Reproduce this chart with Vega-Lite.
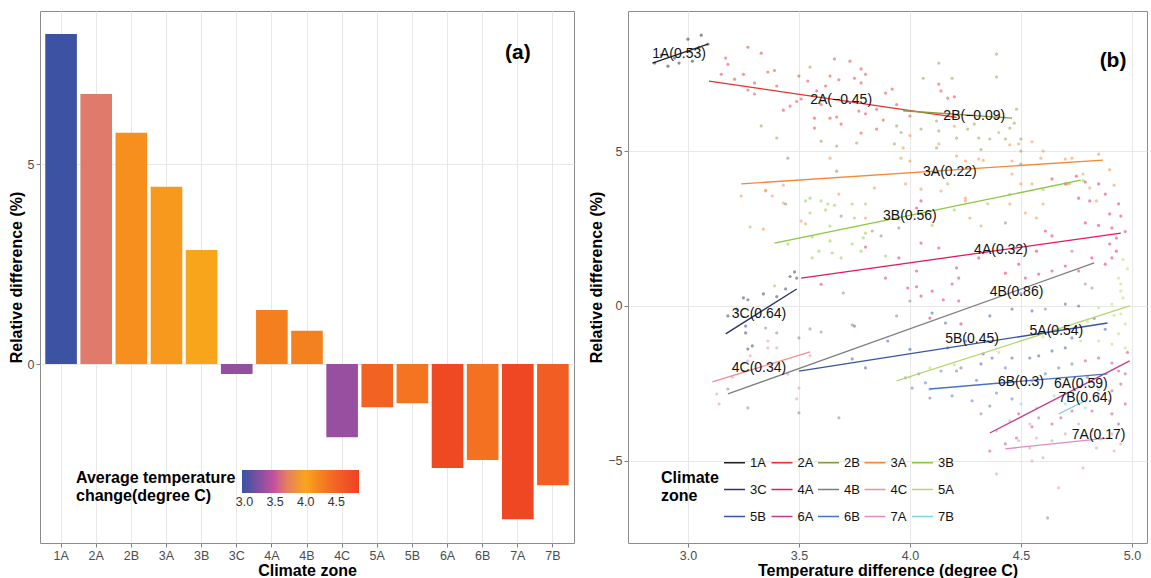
{
  "$schema": "https://vega.github.io/schema/vega-lite/v6.json",
  "background": "white",
  "padding": {"left": 7, "top": 10, "right": 0, "bottom": 0},
  "spacing": 54,
  "bounds": "flush",
  "config": {
    "font": "Liberation Sans",
    "view": {"stroke": "#8c8c8c", "strokeWidth": 1},
    "axis": {
      "domain": false,
      "labelColor": "#4d4d4d",
      "labelFontSize": 12.5,
      "labelPadding": 2,
      "titleFontSize": 16,
      "titleFontWeight": "bold",
      "titleColor": "#000000",
      "titlePadding": 3,
      "tickColor": "#7f7f7f",
      "tickSize": 4,
      "gridColor": "#e8e8e8",
      "gridWidth": 1
    },
    "legend": {"padding": 0, "labelOverlap": false}
  },
  "datasets": {
    "zones": [
      {"zone": "1A", "diff": 8.25, "temp": 2.97},
      {"zone": "2A", "diff": 6.75, "temp": 3.65},
      {"zone": "2B", "diff": 5.78, "temp": 4.15},
      {"zone": "3A", "diff": 4.43, "temp": 4.08},
      {"zone": "3B", "diff": 2.85, "temp": 4.0},
      {"zone": "3C", "diff": -0.25, "temp": 3.3},
      {"zone": "4A", "diff": 1.35, "temp": 4.27},
      {"zone": "4B", "diff": 0.83, "temp": 4.25},
      {"zone": "4C", "diff": -1.83, "temp": 3.32},
      {"zone": "5A", "diff": -1.08, "temp": 4.5},
      {"zone": "5B", "diff": -0.98, "temp": 4.35},
      {"zone": "6A", "diff": -2.6, "temp": 4.78},
      {"zone": "6B", "diff": -2.4, "temp": 4.38},
      {"zone": "7A", "diff": -3.88, "temp": 4.82},
      {"zone": "7B", "diff": -3.03, "temp": 4.57}
    ],
    "fits": [
      {"z": "1A", "t": 2.84, "d": 7.84}, {"z": "1A", "t": 3.09, "d": 8.45},
      {"z": "2A", "t": 3.095, "d": 7.26}, {"z": "2A", "t": 4.21, "d": 6.09},
      {"z": "2B", "t": 3.97, "d": 6.3}, {"z": "2B", "t": 4.46, "d": 6.06},
      {"z": "3A", "t": 3.24, "d": 3.94}, {"z": "3A", "t": 4.87, "d": 4.71},
      {"z": "3B", "t": 3.39, "d": 2.03}, {"z": "3B", "t": 4.77, "d": 4.06},
      {"z": "3C", "t": 3.17, "d": -0.9}, {"z": "3C", "t": 3.49, "d": 0.55},
      {"z": "4A", "t": 3.51, "d": 0.9}, {"z": "4A", "t": 4.95, "d": 2.35},
      {"z": "4B", "t": 3.18, "d": -2.84}, {"z": "4B", "t": 4.83, "d": 1.39},
      {"z": "4C", "t": 3.11, "d": -2.45}, {"z": "4C", "t": 3.55, "d": -1.48},
      {"z": "5A", "t": 3.94, "d": -2.42}, {"z": "5A", "t": 4.99, "d": 0.0},
      {"z": "5B", "t": 3.5, "d": -2.1}, {"z": "5B", "t": 4.89, "d": -0.55},
      {"z": "6A", "t": 4.36, "d": -4.1}, {"z": "6A", "t": 4.99, "d": -1.77},
      {"z": "6B", "t": 4.09, "d": -2.68}, {"z": "6B", "t": 4.89, "d": -2.19},
      {"z": "7A", "t": 4.43, "d": -4.61}, {"z": "7A", "t": 4.9, "d": -4.26},
      {"z": "7B", "t": 4.67, "d": -3.48}, {"z": "7B", "t": 4.79, "d": -3.06}
    ],
    "tags": [
      {"lab": "1A(0.53)", "t": 2.96, "d": 8.13},
      {"lab": "2A(−0.45)", "t": 3.69, "d": 6.65},
      {"lab": "2B(−0.09)", "t": 4.29, "d": 6.13},
      {"lab": "3A(0.22)", "t": 4.18, "d": 4.32},
      {"lab": "3B(0.56)", "t": 4.0, "d": 2.9},
      {"lab": "4A(0.32)", "t": 4.41, "d": 1.81},
      {"lab": "4B(0.86)", "t": 4.48, "d": 0.45},
      {"lab": "3C(0.64)", "t": 3.32, "d": -0.26},
      {"lab": "4C(0.34)", "t": 3.32, "d": -2.0},
      {"lab": "5B(0.45)", "t": 4.28, "d": -1.06},
      {"lab": "5A(0.54)", "t": 4.66, "d": -0.81},
      {"lab": "6B(0.3)", "t": 4.5, "d": -2.45},
      {"lab": "6A(0.59)", "t": 4.77, "d": -2.52},
      {"lab": "7B(0.64)", "t": 4.79, "d": -2.98},
      {"lab": "7A(0.17)", "t": 4.85, "d": -4.16}
    ],
    "pts": [
      {"z":"1A","t":3.0,"d":8.61},{"z":"1A","t":3.06,"d":8.74},{"z":"1A","t":2.91,"d":7.74},{"z":"1A","t":2.96,"d":7.84},{"z":"1A","t":3.02,"d":7.9},
      {"z":"1A","t":2.85,"d":7.84},{"z":"1A","t":2.88,"d":8.1},{"z":"1A","t":3.05,"d":8.35},{"z":"1A","t":2.94,"d":8.0},{"z":"1A","t":3.09,"d":8.45},
      {"z":"2A","t":3.27,"d":8.35},{"z":"2A","t":3.33,"d":8.16},{"z":"2A","t":3.17,"d":8.0},{"z":"2A","t":3.18,"d":7.8},{"z":"2A","t":3.15,"d":7.48},
      {"z":"2A","t":3.25,"d":7.48},{"z":"2A","t":3.36,"d":7.55},{"z":"2A","t":3.39,"d":7.6},{"z":"2A","t":3.21,"d":7.32},{"z":"2A","t":3.3,"d":7.2},
      {"z":"2A","t":3.4,"d":7.1},{"z":"2A","t":3.27,"d":6.97},{"z":"2A","t":3.3,"d":6.84},{"z":"2A","t":3.43,"d":6.32},{"z":"2A","t":3.46,"d":6.45},
      {"z":"2A","t":3.5,"d":7.42},{"z":"2A","t":3.54,"d":7.26},{"z":"2A","t":3.51,"d":6.68},{"z":"2A","t":3.49,"d":6.6},{"z":"2A","t":3.58,"d":6.94},
      {"z":"2A","t":3.62,"d":7.1},{"z":"2A","t":3.66,"d":7.97},{"z":"2A","t":3.73,"d":7.9},{"z":"2A","t":3.78,"d":7.65},{"z":"2A","t":3.8,"d":7.48},
      {"z":"2A","t":3.78,"d":7.2},{"z":"2A","t":3.75,"d":7.35},{"z":"2A","t":3.64,"d":7.42},{"z":"2A","t":3.68,"d":7.3},{"z":"2A","t":3.57,"d":6.06},
      {"z":"2A","t":3.64,"d":6.06},{"z":"2A","t":3.67,"d":6.1},{"z":"2A","t":3.69,"d":5.87},{"z":"2A","t":3.77,"d":6.29},{"z":"2A","t":3.8,"d":6.2},
      {"z":"2A","t":3.85,"d":6.35},{"z":"2A","t":3.88,"d":6.0},{"z":"2A","t":3.85,"d":5.71},{"z":"2A","t":3.78,"d":5.58},{"z":"2A","t":3.57,"d":5.74},
      {"z":"2A","t":3.89,"d":6.87},{"z":"2A","t":3.94,"d":6.5},{"z":"2A","t":4.0,"d":6.13},{"z":"2A","t":4.13,"d":7.16},{"z":"2A","t":4.14,"d":6.94},
      {"z":"2A","t":4.17,"d":6.71},{"z":"2A","t":4.2,"d":6.75},{"z":"2A","t":3.92,"d":7.0},{"z":"2A","t":3.6,"d":6.5},{"z":"2A","t":3.72,"d":6.6},
      {"z":"2B","t":3.33,"d":5.81},{"z":"2B","t":3.4,"d":5.42},{"z":"2B","t":3.55,"d":7.71},{"z":"2B","t":3.6,"d":5.32},{"z":"2B","t":3.67,"d":5.16},
      {"z":"2B","t":3.76,"d":5.26},{"z":"2B","t":4.13,"d":7.84},{"z":"2B","t":4.06,"d":7.35},{"z":"2B","t":4.19,"d":7.35},{"z":"2B","t":4.39,"d":8.13},
      {"z":"2B","t":4.39,"d":7.39},{"z":"2B","t":4.05,"d":5.71},{"z":"2B","t":4.12,"d":5.97},{"z":"2B","t":4.13,"d":5.65},{"z":"2B","t":4.21,"d":5.42},
      {"z":"2B","t":4.26,"d":5.71},{"z":"2B","t":4.29,"d":5.87},{"z":"2B","t":4.31,"d":5.42},{"z":"2B","t":4.36,"d":5.39},{"z":"2B","t":4.43,"d":5.39},
      {"z":"2B","t":4.45,"d":5.74},{"z":"2B","t":4.48,"d":6.35},{"z":"2B","t":4.5,"d":5.39},{"z":"2B","t":3.94,"d":5.81},{"z":"2B","t":3.96,"d":5.6},
      {"z":"2B","t":3.93,"d":5.23},{"z":"2B","t":4.12,"d":5.1},{"z":"2B","t":4.32,"d":5.05},{"z":"2B","t":4.5,"d":5.0},{"z":"2B","t":4.47,"d":5.9},
      {"z":"3A","t":3.64,"d":4.77},{"z":"3A","t":3.43,"d":3.9},{"z":"3A","t":3.38,"d":3.55},{"z":"3A","t":3.24,"d":3.55},{"z":"3A","t":3.35,"d":3.74},
      {"z":"3A","t":3.28,"d":2.55},{"z":"3A","t":3.34,"d":2.48},{"z":"3A","t":3.51,"d":2.74},{"z":"3A","t":3.53,"d":2.65},{"z":"3A","t":3.74,"d":3.29},
      {"z":"3A","t":3.8,"d":2.84},{"z":"3A","t":3.35,"d":3.71},{"z":"3A","t":3.43,"d":3.32},{"z":"3A","t":3.68,"d":3.61},{"z":"3A","t":3.84,"d":3.81},
      {"z":"3A","t":4.0,"d":4.68},{"z":"3A","t":3.97,"d":5.1},{"z":"3A","t":4.13,"d":5.23},{"z":"3A","t":4.25,"d":4.68},{"z":"3A","t":4.33,"d":4.7},
      {"z":"3A","t":4.49,"d":5.23},{"z":"3A","t":4.59,"d":4.77},{"z":"3A","t":4.73,"d":4.77},{"z":"3A","t":4.78,"d":4.26},{"z":"3A","t":4.81,"d":3.81},
      {"z":"3A","t":4.84,"d":3.39},{"z":"3A","t":4.71,"d":3.94},{"z":"3A","t":4.5,"d":3.94},{"z":"3A","t":4.46,"d":4.26},{"z":"3A","t":4.17,"d":3.94},
      {"z":"3A","t":4.25,"d":3.39},{"z":"3A","t":3.96,"d":4.77},{"z":"3A","t":4.21,"d":4.84},{"z":"3A","t":4.31,"d":4.74},{"z":"3A","t":4.46,"d":4.68},
      {"z":"3A","t":4.7,"d":4.74},{"z":"3A","t":4.85,"d":4.9},{"z":"3A","t":3.98,"d":3.94},{"z":"3A","t":4.05,"d":3.77},{"z":"3A","t":4.14,"d":3.71},
      {"z":"3A","t":4.25,"d":3.48},{"z":"3A","t":4.45,"d":3.29},{"z":"3A","t":4.55,"d":3.94},{"z":"3A","t":4.27,"d":2.84},{"z":"3A","t":4.32,"d":2.58},
      {"z":"3A","t":4.6,"d":3.29},{"z":"3A","t":4.57,"d":2.84},{"z":"3A","t":4.52,"d":3.0},{"z":"3A","t":4.0,"d":5.5},{"z":"3A","t":4.2,"d":5.8},
      {"z":"3A","t":4.4,"d":5.6},{"z":"3A","t":4.45,"d":5.2},{"z":"3A","t":4.55,"d":5.3},{"z":"3A","t":4.6,"d":5.0},{"z":"3A","t":4.9,"d":4.4},
      {"z":"3A","t":4.92,"d":3.9},
      {"z":"3B","t":3.53,"d":3.39},{"z":"3B","t":3.55,"d":3.48},{"z":"3B","t":3.6,"d":3.39},{"z":"3B","t":3.62,"d":3.1},{"z":"3B","t":3.63,"d":3.29},
      {"z":"3B","t":3.66,"d":3.25},{"z":"3B","t":3.55,"d":3.0},{"z":"3B","t":3.64,"d":2.58},{"z":"3B","t":3.8,"d":3.29},{"z":"3B","t":3.75,"d":2.84},
      {"z":"3B","t":3.56,"d":2.23},{"z":"3B","t":3.64,"d":2.1},{"z":"3B","t":3.59,"d":1.77},{"z":"3B","t":3.65,"d":1.71},{"z":"3B","t":3.56,"d":1.55},
      {"z":"3B","t":3.69,"d":1.55},{"z":"3B","t":3.74,"d":2.0},{"z":"3B","t":3.78,"d":1.77},{"z":"3B","t":3.79,"d":2.2},{"z":"3B","t":3.8,"d":2.35},
      {"z":"3B","t":3.89,"d":1.61},{"z":"3B","t":3.39,"d":0.65},{"z":"3B","t":3.45,"d":2.0},{"z":"3B","t":3.95,"d":2.8},{"z":"3B","t":4.05,"d":3.0},
      {"z":"3B","t":4.2,"d":3.1},{"z":"3B","t":4.35,"d":3.3},{"z":"3B","t":4.45,"d":3.6},{"z":"3B","t":4.6,"d":3.75},{"z":"3B","t":4.72,"d":3.95},
      {"z":"3B","t":4.78,"d":4.05},{"z":"3B","t":4.1,"d":2.6},
      {"z":"3C","t":3.48,"d":1.1},{"z":"3C","t":3.49,"d":0.9},{"z":"3C","t":3.46,"d":0.95},{"z":"3C","t":3.44,"d":0.55},{"z":"3C","t":3.34,"d":0.39},
      {"z":"3C","t":3.25,"d":0.26},{"z":"3C","t":3.27,"d":0.2},{"z":"3C","t":3.18,"d":-0.32},{"z":"3C","t":3.26,"d":-0.65},{"z":"3C","t":3.26,"d":-0.87},
      {"z":"3C","t":3.29,"d":-1.29},{"z":"3C","t":3.27,"d":-1.39},{"z":"3C","t":3.22,"d":-0.1},{"z":"3C","t":3.4,"d":0.3},
      {"z":"4A","t":4.64,"d":4.1},{"z":"4A","t":4.7,"d":3.94},{"z":"4A","t":4.75,"d":4.19},{"z":"4A","t":4.79,"d":4.0},{"z":"4A","t":4.76,"d":3.48},
      {"z":"4A","t":4.81,"d":3.39},{"z":"4A","t":4.85,"d":3.94},{"z":"4A","t":4.88,"d":3.61},{"z":"4A","t":4.05,"d":3.39},{"z":"4A","t":4.03,"d":3.16},
      {"z":"4A","t":4.05,"d":2.03},{"z":"4A","t":4.13,"d":1.87},{"z":"4A","t":3.95,"d":1.55},{"z":"4A","t":4.03,"d":1.13},{"z":"4A","t":4.21,"d":1.23},
      {"z":"4A","t":4.22,"d":0.9},{"z":"4A","t":4.19,"d":0.71},{"z":"4A","t":4.31,"d":1.55},{"z":"4A","t":4.43,"d":1.06},{"z":"4A","t":4.49,"d":1.35},
      {"z":"4A","t":4.57,"d":1.77},{"z":"4A","t":4.61,"d":2.42},{"z":"4A","t":4.64,"d":2.26},{"z":"4A","t":4.79,"d":2.68},{"z":"4A","t":4.85,"d":2.6},
      {"z":"4A","t":4.9,"d":2.97},{"z":"4A","t":4.91,"d":2.52},{"z":"4A","t":4.93,"d":2.19},{"z":"4A","t":4.9,"d":2.0},{"z":"4A","t":4.93,"d":1.77},
      {"z":"4A","t":4.91,"d":1.55},{"z":"4A","t":4.88,"d":1.35},{"z":"4A","t":4.82,"d":1.55},{"z":"4A","t":4.76,"d":1.13},{"z":"4A","t":4.7,"d":1.29},
      {"z":"4A","t":4.64,"d":1.13},{"z":"4A","t":4.58,"d":1.03},{"z":"4A","t":4.52,"d":0.9},{"z":"4A","t":3.99,"d":0.58},{"z":"4A","t":4.03,"d":0.62},
      {"z":"4A","t":4.1,"d":0.48},{"z":"4A","t":3.89,"d":0.9},{"z":"4A","t":4.05,"d":0.32},{"z":"4A","t":4.15,"d":0.2},{"z":"4A","t":4.22,"d":0.16},
      {"z":"4A","t":4.09,"d":-0.39},{"z":"4A","t":4.23,"d":-0.58},{"z":"4A","t":4.95,"d":2.9},{"z":"4A","t":4.97,"d":2.4},{"z":"4A","t":4.94,"d":3.3},
      {"z":"4A","t":3.8,"d":1.9},{"z":"4A","t":3.6,"d":0.7},
      {"z":"4B","t":3.45,"d":4.77},{"z":"4B","t":3.67,"d":4.35},{"z":"4B","t":3.44,"d":3.29},{"z":"4B","t":3.69,"d":2.9},{"z":"4B","t":3.83,"d":2.42},
      {"z":"4B","t":3.87,"d":2.26},{"z":"4B","t":3.95,"d":2.52},{"z":"4B","t":4.43,"d":2.68},{"z":"4B","t":4.5,"d":4.58},{"z":"4B","t":4.73,"d":1.77},
      {"z":"4B","t":4.79,"d":0.71},{"z":"4B","t":4.82,"d":0.58},{"z":"4B","t":3.7,"d":0.42},{"z":"4B","t":3.35,"d":-0.71},{"z":"4B","t":3.4,"d":-0.87},
      {"z":"4B","t":3.5,"d":-1.03},{"z":"4B","t":3.55,"d":-0.74},{"z":"4B","t":3.6,"d":-0.84},{"z":"4B","t":3.74,"d":-0.61},{"z":"4B","t":3.18,"d":-2.68},
      {"z":"4B","t":3.27,"d":-3.29},{"z":"4B","t":3.5,"d":-3.45},{"z":"4B","t":3.68,"d":-3.61},{"z":"4B","t":3.94,"d":-0.32},{"z":"4B","t":4.61,"d":-0.1},
      {"z":"4B","t":4.58,"d":-3.61},{"z":"4B","t":4.32,"d":-3.48},{"z":"4B","t":4.0,"d":0.16},{"z":"4B","t":4.5,"d":0.4},{"z":"4B","t":4.62,"d":-6.84},
      {"z":"4C","t":3.36,"d":-1.13},{"z":"4C","t":3.36,"d":-1.35},{"z":"4C","t":3.4,"d":-1.35},{"z":"4C","t":3.28,"d":-1.61},{"z":"4C","t":3.27,"d":-1.77},
      {"z":"4C","t":3.13,"d":-2.84},{"z":"4C","t":3.14,"d":-3.16},{"z":"4C","t":3.5,"d":-2.65},{"z":"4C","t":3.49,"d":-3.0},{"z":"4C","t":3.45,"d":-2.2},
      {"z":"4C","t":3.2,"d":-2.3},{"z":"4C","t":3.55,"d":-1.6},
      {"z":"5A","t":4.94,"d":0.9},{"z":"5A","t":4.95,"d":0.71},{"z":"5A","t":4.95,"d":0.48},{"z":"5A","t":4.96,"d":0.26},{"z":"5A","t":4.85,"d":-0.06},
      {"z":"5A","t":4.91,"d":0.06},{"z":"5A","t":4.95,"d":-0.26},{"z":"5A","t":4.97,"d":-0.58},{"z":"5A","t":4.94,"d":-0.9},{"z":"5A","t":4.91,"d":-1.23},
      {"z":"5A","t":4.97,"d":-1.35},{"z":"5A","t":4.85,"d":-1.13},{"z":"5A","t":4.77,"d":-1.13},{"z":"5A","t":4.09,"d":-2.0},{"z":"5A","t":4.98,"d":1.2},
      {"z":"5A","t":4.96,"d":1.5},{"z":"5A","t":4.6,"d":-1.0},{"z":"5A","t":4.4,"d":-1.5},{"z":"5A","t":4.2,"d":-1.9},{"z":"5A","t":4.0,"d":-2.3},
      {"z":"5A","t":4.8,"d":-0.5},{"z":"5A","t":4.92,"d":-0.3},
      {"z":"5B","t":3.74,"d":-1.71},{"z":"5B","t":3.8,"d":-2.0},{"z":"5B","t":3.9,"d":-1.13},{"z":"5B","t":4.46,"d":-0.1},{"z":"5B","t":4.55,"d":-0.16},
      {"z":"5B","t":4.7,"d":0.06},{"z":"5B","t":4.76,"d":0.0},{"z":"5B","t":4.73,"d":-1.03},{"z":"5B","t":4.7,"d":-1.35},{"z":"5B","t":4.64,"d":-1.45},
      {"z":"5B","t":4.58,"d":-1.61},{"z":"5B","t":4.54,"d":-1.68},{"z":"5B","t":4.46,"d":-1.68},{"z":"5B","t":4.37,"d":-1.68},{"z":"5B","t":4.32,"d":-1.87},
      {"z":"5B","t":3.75,"d":-0.65},{"z":"5B","t":4.1,"d":-0.23},{"z":"5B","t":4.17,"d":-1.35},{"z":"5B","t":4.25,"d":-1.13},{"z":"5B","t":4.33,"d":-1.55},
      {"z":"5B","t":4.36,"d":-0.32},{"z":"5B","t":4.16,"d":-0.55},{"z":"5B","t":4.0,"d":-1.4},{"z":"5B","t":4.83,"d":-0.4},{"z":"5B","t":4.88,"d":-0.75},
      {"z":"6A","t":4.79,"d":-1.77},{"z":"6A","t":4.85,"d":-1.68},{"z":"6A","t":4.91,"d":-1.84},{"z":"6A","t":4.94,"d":-2.1},{"z":"6A","t":4.97,"d":-2.19},
      {"z":"6A","t":4.95,"d":-2.52},{"z":"6A","t":4.91,"d":-2.74},{"z":"6A","t":4.9,"d":-3.06},{"z":"6A","t":4.85,"d":-2.84},{"z":"6A","t":4.82,"d":-3.39},
      {"z":"6A","t":4.91,"d":-3.48},{"z":"6A","t":4.97,"d":-3.16},{"z":"6A","t":4.94,"d":-3.81},{"z":"6A","t":4.73,"d":-3.39},{"z":"6A","t":4.68,"d":-3.61},
      {"z":"6A","t":4.64,"d":-3.81},{"z":"6A","t":4.49,"d":-3.48},{"z":"6A","t":4.48,"d":-4.26},{"z":"6A","t":4.43,"d":-4.45},{"z":"6A","t":4.36,"d":-4.68},
      {"z":"6A","t":4.98,"d":-1.5},{"z":"6A","t":4.21,"d":-2.1},{"z":"6A","t":4.55,"d":-3.9},
      {"z":"6B","t":4.43,"d":-2.0},{"z":"6B","t":4.23,"d":-2.0},{"z":"6B","t":4.14,"d":-2.1},{"z":"6B","t":4.04,"d":-2.19},{"z":"6B","t":3.98,"d":-2.32},
      {"z":"6B","t":4.01,"d":-2.65},{"z":"6B","t":4.07,"d":-2.48},{"z":"6B","t":4.09,"d":-2.97},{"z":"6B","t":4.19,"d":-2.9},{"z":"6B","t":4.28,"d":-3.06},
      {"z":"6B","t":4.36,"d":-3.23},{"z":"6B","t":4.39,"d":-2.81},{"z":"6B","t":4.46,"d":-3.0},{"z":"6B","t":4.55,"d":-2.42},{"z":"6B","t":4.61,"d":-2.19},
      {"z":"6B","t":4.67,"d":-2.0},{"z":"6B","t":4.73,"d":-1.87},{"z":"6B","t":4.09,"d":-2.68},{"z":"6B","t":4.3,"d":-2.4},{"z":"6B","t":4.8,"d":-2.3},
      {"z":"7A","t":4.91,"d":-4.13},{"z":"7A","t":4.95,"d":-4.45},{"z":"7A","t":4.86,"d":-4.29},{"z":"7A","t":4.82,"d":-4.03},{"z":"7A","t":4.76,"d":-3.81},
      {"z":"7A","t":4.54,"d":-3.81},{"z":"7A","t":4.45,"d":-3.71},{"z":"7A","t":4.39,"d":-4.03},{"z":"7A","t":4.57,"d":-4.26},{"z":"7A","t":4.64,"d":-4.35},
      {"z":"7A","t":4.7,"d":-4.13},{"z":"7A","t":4.54,"d":-4.58},{"z":"7A","t":4.39,"d":-5.42},{"z":"7A","t":4.67,"d":-5.87},{"z":"7A","t":4.55,"d":-5.0},
      {"z":"7A","t":4.78,"d":-5.23},{"z":"7A","t":4.84,"d":-4.58},{"z":"7A","t":4.92,"d":-4.68},{"z":"7A","t":4.49,"d":-4.35},{"z":"7A","t":4.6,"d":-4.9},
      {"z":"7B","t":4.7,"d":-3.16},{"z":"7B","t":4.76,"d":-3.06},{"z":"7B","t":4.79,"d":-3.29},{"z":"7B","t":4.5,"d":-3.16},{"z":"7B","t":4.57,"d":-3.29},
      {"z":"7B","t":4.85,"d":-2.7},{"z":"7B","t":4.65,"d":-2.9}
    ]
  },
  "hconcat": [
    {
      "width": 534,
      "height": 532,
      "layer": [
        {
          "data": {"name": "zones"},
          "mark": {"type": "bar"},
          "encoding": {
            "x": {
              "field": "zone", "type": "nominal", "sort": null, "title": "Climate zone",
              "scale": {"paddingInner": 0.1, "paddingOuter": 0.15},
              "axis": {"labelAngle": 0, "bandPosition": 0.5, "grid": true, "titlePadding": 1}
            },
            "y": {
              "field": "diff", "type": "quantitative", "title": "Relative difference (%)",
              "scale": {"domain": [-4.475, 8.825], "nice": false, "zero": false},
              "axis": {"values": [0, 5], "grid": true}
            },
            "color": {
              "field": "temp", "type": "quantitative",
              "title": ["Average temperature", "change(degree C)"],
              "scale": {
                "type": "linear",
                "domain": [2.96, 3.3, 3.5, 3.65, 4.0, 4.25, 4.5, 4.87],
                "range": ["#3953a4", "#934fa0", "#c8539a", "#e07a6a", "#f9a51b", "#f4811f", "#f26323", "#ee4123"],
                "interpolate": "rgb"
              },
              "legend": {
                "orient": "none", "legendX": 36, "legendY": 459,
                "direction": "horizontal", "titleOrient": "left", "titleAnchor": "start",
                "titleFontSize": 16, "titleFontWeight": "bold", "titleColor": "#000000", "titlePadding": 6,
                "gradientLength": 117, "gradientThickness": 23, "gradientStrokeWidth": 0,
                "values": [3.0, 3.5, 4.0, 4.5], "format": ".1f",
                "labelFontSize": 12.5, "labelColor": "#333333", "labelOffset": 3
              }
            }
          }
        },
        {
          "data": {"values": [{}]},
          "mark": {"type": "text", "fontSize": 21, "fontWeight": "bold", "color": "#000000"},
          "encoding": {
            "x": {"datum": "7A", "type": "nominal"},
            "y": {"datum": 7.78, "type": "quantitative"},
            "text": {"value": "(a)"}
          }
        }
      ]
    },
    {
      "width": 519,
      "height": 532,
      "resolve": {"legend": {"color": "independent"}},
      "layer": [
        {
          "data": {"name": "pts"},
          "mark": {"type": "circle", "size": 10, "opacity": 0.5},
          "encoding": {
            "x": {
              "field": "t", "type": "quantitative", "title": "Temperature difference (degree C)",
              "scale": {"domain": [2.73, 5.068], "nice": false, "zero": false},
              "axis": {"values": [3.0, 3.5, 4.0, 4.5, 5.0], "format": ".1f", "grid": true, "titlePadding": 1}
            },
            "y": {
              "field": "d", "type": "quantitative", "title": "Relative difference (%)",
              "scale": {"domain": [-7.65, 9.52], "nice": false, "zero": false},
              "axis": {"values": [-5, 0, 5], "grid": true}
            },
            "color": {
              "field": "z", "type": "nominal", "title": ["Climate", "zone"],
              "scale": {
                "domain": ["1A", "2A", "2B", "3A", "3B", "3C", "4A", "4B", "4C", "5A", "5B", "6A", "6B", "7A", "7B"],
                "range": ["#222222", "#e8312f", "#8c9a3e", "#f28a3a", "#8dc63f", "#2c3466", "#e3195b", "#7f7f7f", "#f28c9a", "#b9d56e", "#3853a3", "#c53b8e", "#4a72c2", "#de8cc0", "#7fd4dc"]
              },
              "legend": null
            }
          }
        },
        {
          "data": {"name": "fits"},
          "mark": {"type": "line", "strokeWidth": 1.3},
          "encoding": {
            "x": {"field": "t", "type": "quantitative", "title": "Temperature difference (degree C)"},
            "y": {"field": "d", "type": "quantitative", "title": "Relative difference (%)"},
            "color": {
              "field": "z", "type": "nominal", "title": ["Climate", "zone"],
              "legend": {
                "orient": "none", "legendX": 33, "legendY": 440,
                "columns": 5, "direction": "horizontal",
                "symbolType": "stroke", "symbolSize": 440, "symbolStrokeWidth": 1.5,
                "labelFontSize": 13, "labelColor": "#111111", "labelOffset": 4,
                "columnPadding": 1.5, "rowPadding": 8,
                "titleOrient": "left", "titleAnchor": "middle", "titleBaseline": "middle",
                "titleFontSize": 16, "titleFontWeight": "bold", "titleColor": "#000000", "titlePadding": 4
              }
            }
          }
        },
        {
          "data": {"name": "tags"},
          "mark": {"type": "text", "fontSize": 14, "color": "#111111"},
          "encoding": {
            "x": {"field": "t", "type": "quantitative", "title": "Temperature difference (degree C)"},
            "y": {"field": "d", "type": "quantitative", "title": "Relative difference (%)"},
            "text": {"field": "lab"}
          }
        },
        {
          "data": {"values": [{}]},
          "mark": {"type": "text", "fontSize": 21, "fontWeight": "bold", "color": "#000000"},
          "encoding": {
            "x": {"datum": 4.915, "type": "quantitative"},
            "y": {"datum": 7.92, "type": "quantitative"},
            "text": {"value": "(b)"}
          }
        }
      ]
    }
  ]
}
